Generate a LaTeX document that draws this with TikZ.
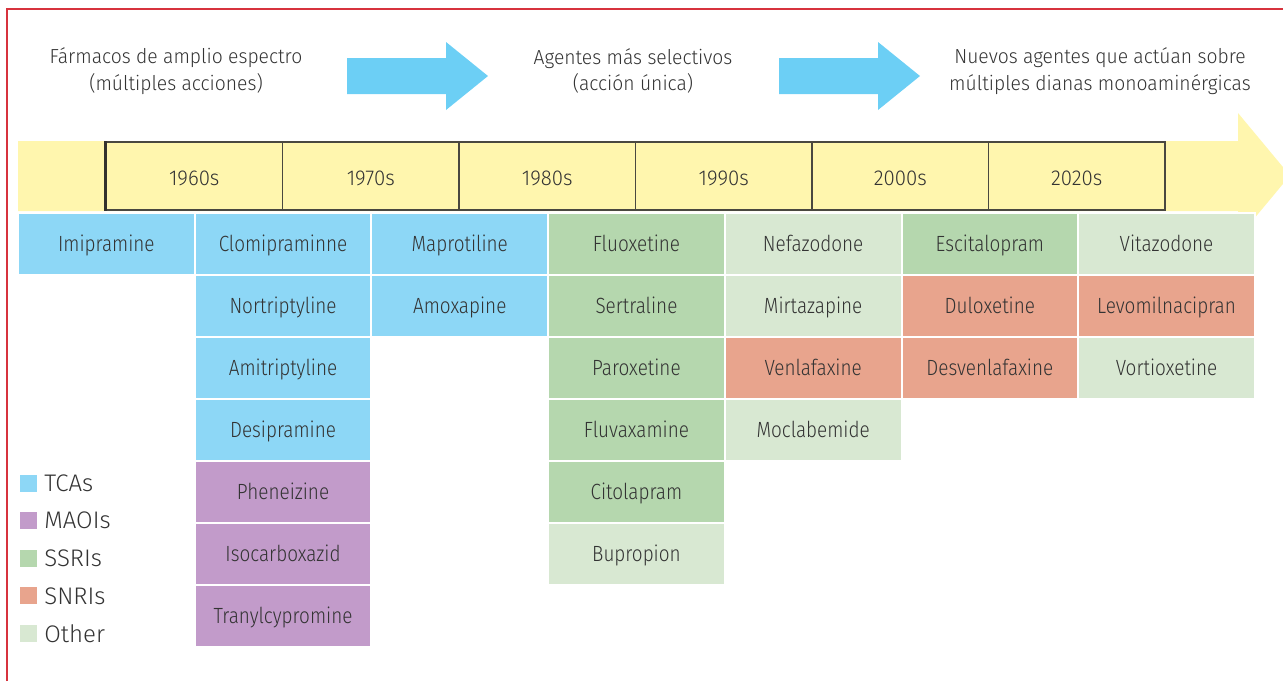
\documentclass[tikz,border=0pt]{standalone}
\usepackage{fontspec}
\setmainfont{Fira Sans}[UprightFont=* Light]
\newfontfamily\narrowsans{Fira Sans}[UprightFont=* Light,FakeStretch=0.86]
\newfontfamily\midsans{Fira Sans}[UprightFont=* Light,FakeStretch=0.95]
\usetikzlibrary{positioning}

\definecolor{tcaBlue}{HTML}{8DD7F6}
\definecolor{maoiPurple}{HTML}{C29BCA}
\definecolor{ssriGreen}{HTML}{B5D7AE}
\definecolor{snriSalmon}{HTML}{E8A48D}
\definecolor{otherGreen}{HTML}{D8E8D2}
\definecolor{bandYellow}{HTML}{FFF6AE}
\definecolor{arrowBlue}{HTML}{6CCFF5}
\definecolor{frameRed}{HTML}{D7333D}
\definecolor{inkGray}{HTML}{333333}
\definecolor{decadeLine}{HTML}{4A4840}

\begin{document}
\begin{tikzpicture}[x=1pt,y=-1pt,
	every node/.style = {text=inkGray},
	cell/.style = {fill=#1,draw=white,line width=2pt,minimum width=176.7pt,minimum height=62pt,inner sep=0pt,
		font=\narrowsans\fontsize{22}{26}\selectfont,text height=20pt,text depth=5pt},
	decade/.style = {draw=decadeLine,fill=bandYellow,line width=1.5pt,minimum width=176.5pt,minimum height=68pt,
		font=\midsans\fontsize{21.5}{26}\selectfont,text height=23pt,text depth=5pt},
	key/.style = {fill=#1,minimum size=17pt,inner sep=0pt},
	keylabel/.style = {font=\fontsize{24}{28}\selectfont,inner sep=0pt},
	heading/.style = {align=center,font=\midsans\fontsize{20.3}{26.6}\selectfont}]

	\useasboundingbox (0,0) rectangle (1283,681);
	\draw[frameRed,line width=1.2pt] (7,681) -- (7,9) -- (1283,9);

	% timeline band
	\fill[bandYellow] (18,141) -- (1238,141) -- (1238,113) -- (1290,175.5) -- (1238,238) -- (1238,211) -- (18,211) -- cycle;
	\foreach \yr [count=\k] in {1960s,1970s,1980s,1990s,2000s,2020s}
		\node[decade] (dec\k) at (17.75+176.5*\k,176) {\yr};
	\draw[decadeLine!70!black,line width=2.5pt] (dec1.north west) -- (dec1.south west);

	% drugs, column/row/class/name
	\foreach \c/\r/\kind/\drug in {
			0/0/tcaBlue/Imipramine,
			1/0/tcaBlue/Clomipraminne, 1/1/tcaBlue/Nortriptyline, 1/2/tcaBlue/Amitriptyline, 1/3/tcaBlue/Desipramine,
			1/4/maoiPurple/Pheneizine, 1/5/maoiPurple/Isocarboxazid, 1/6/maoiPurple/Tranylcypromine,
			2/0/tcaBlue/Maprotiline, 2/1/tcaBlue/Amoxapine,
			3/0/ssriGreen/Fluoxetine, 3/1/ssriGreen/Sertraline, 3/2/ssriGreen/Paroxetine, 3/3/ssriGreen/Fluvaxamine,
			3/4/ssriGreen/Citolapram, 3/5/otherGreen/Bupropion,
			4/0/otherGreen/Nefazodone, 4/1/otherGreen/Mirtazapine, 4/2/snriSalmon/Venlafaxine, 4/3/otherGreen/Moclabemide,
			5/0/ssriGreen/Escitalopram, 5/1/snriSalmon/Duloxetine, 5/2/snriSalmon/Desvenlafaxine,
			6/0/otherGreen/Vitazodone, 6/1/snriSalmon/Levomilnacipran, 6/2/otherGreen/Vortioxetine}
		\node[cell=\kind] (drug\c\r) at (106.35+176.7*\c,243.5+62*\r) {\drug};

	% legend
	\foreach \kind/\lbl [count=\k from 0] in {tcaBlue/TCAs,maoiPurple/MAOIs,ssriGreen/SSRIs,snriSalmon/SNRIs,otherGreen/Other}{
		\node[key=\kind] (key\k) at (28.5,483+37.6*\k) {};
		\node[keylabel,right=7pt of key\k] (lbl\k) {\lbl};
	}

	% eras
	\foreach \dx in {0,432}
		\fill[arrowBlue,xshift=\dx] (347,58) -- (446,58) -- (446,42) -- (488,76) -- (446,110) -- (446,94) -- (347,94) -- cycle;
	\node[heading] (broad) at (176,71) {Fármacos de amplio espectro\\(múltiples acciones)};
	\node[heading] (selective) at (633,71) {Agentes más selectivos\\(acción única)};
	\node[heading] (multi) at (1100,71) {Nuevos agentes que actúan sobre\\múltiples dianas monoaminérgicas};

\end{tikzpicture}
\end{document}
